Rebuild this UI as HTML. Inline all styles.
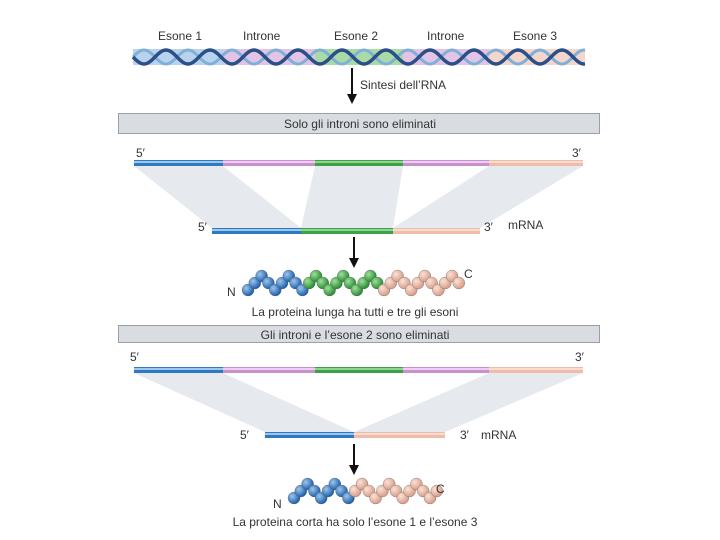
<!DOCTYPE html>
<html><head><meta charset="utf-8"><style>
body{margin:0;background:#fff;width:720px;height:540px;overflow:hidden}
svg{display:block}
text{font-family:"Liberation Sans",sans-serif;fill:#333}
</style></head><body>
<svg id="s" width="720" height="540" viewBox="0 0 720 540">
<defs>
<radialGradient id="gb" cx="35%" cy="35%" r="65%"><stop offset="0" stop-color="#9cc6ee"/><stop offset="1" stop-color="#1f5fa8"/></radialGradient>
<radialGradient id="gg" cx="35%" cy="35%" r="65%"><stop offset="0" stop-color="#9fe09a"/><stop offset="1" stop-color="#2a8a36"/></radialGradient>
<radialGradient id="gp" cx="35%" cy="35%" r="65%"><stop offset="0" stop-color="#fbe2d6"/><stop offset="1" stop-color="#d79c88"/></radialGradient>
</defs>
<g font-size="12">
<text x="158" y="40">Esone 1</text><text x="243" y="40">Introne</text><text x="334" y="40">Esone 2</text><text x="427" y="40">Introne</text><text x="513" y="40">Esone 3</text>
</g>
<rect x="133" y="49" width="90" height="16" fill="#b9d3ee"/>
<rect x="223" y="49" width="92" height="16" fill="#e3c3e6"/>
<rect x="315" y="49" width="88" height="16" fill="#a9dba6"/>
<rect x="403" y="49" width="86" height="16" fill="#e3c3e6"/>
<rect x="489" y="49" width="96" height="16" fill="#f5d6cc"/>
<g id="helix"></g>
<line x1="352" y1="68" x2="352" y2="96" stroke="#111" stroke-width="2"/><polygon points="347,94 357,94 352,104" fill="#111"/>
<text x="360" y="89" font-size="12">Sintesi dell’RNA</text>
<rect x="118.5" y="113.5" width="481" height="20" fill="#d9dde2" stroke="#9aa0a6"/>
<text x="360" y="128" font-size="12" text-anchor="middle">Solo gli introni sono eliminati</text>
<polygon points="134,166 223,166 301,228 212,228" fill="#e6eaee"/>
<polygon points="315,166 403,166 393,228 301,228" fill="#e6eaee"/>
<polygon points="489,166 583,166 480,228 393,228" fill="#e6eaee"/>
<g id="bar1"></g>
<text x="136" y="157" font-size="12">5′</text><text x="572" y="157" font-size="12">3′</text>
<text x="198" y="231" font-size="12">5′</text><text x="484" y="231" font-size="12">3′</text><text x="508" y="229" font-size="12">mRNA</text>
<line x1="354" y1="237" x2="354" y2="260" stroke="#111" stroke-width="2"/><polygon points="349,258 359,258 354,268" fill="#111"/>
<g id="prot1"></g>
<text x="227" y="296" font-size="12">N</text><text x="464" y="278" font-size="12">C</text>
<text x="355" y="316" font-size="12" text-anchor="middle">La proteina lunga ha tutti e tre gli esoni</text>
<rect x="118.5" y="325.5" width="481" height="17" fill="#d9dde2" stroke="#9aa0a6"/>
<text x="355" y="339" font-size="12" text-anchor="middle">Gli introni e l’esone 2 sono eliminati</text>
<polygon points="134,373 223,373 354,432 265,432" fill="#e6eaee"/>
<polygon points="489,373 583,373 445,432 354,432" fill="#e6eaee"/>
<g id="bar2"></g>
<text x="130" y="361" font-size="12">5′</text><text x="575" y="361" font-size="12">3′</text>
<text x="240" y="439" font-size="12">5′</text><text x="460" y="439" font-size="12">3′</text><text x="481" y="439" font-size="12">mRNA</text>
<line x1="354" y1="444" x2="354" y2="467" stroke="#111" stroke-width="2"/><polygon points="349,465 359,465 354,475" fill="#111"/>
<g id="prot2"></g>
<text x="273" y="508" font-size="12">N</text><text x="436" y="493" font-size="12">C</text>
<text x="355" y="526" font-size="12" text-anchor="middle">La proteina corta ha solo l’esone 1 e l’esone 3</text>
</svg>
<script>
var NS="http://www.w3.org/2000/svg";
function el(p,t,a){var e=document.createElementNS(NS,t);for(var k in a)e.setAttribute(k,a[k]);p.appendChild(e);return e;}
var h=document.getElementById("helix");
function wave(ph,col,w){var d="";for(var x=133;x<=585;x+=1){var y=57+7*Math.sin((x-133)/22*Math.PI+ph);d+=(x==133?"M":"L")+x+","+y.toFixed(1);}el(h,"path",{d:d,fill:"none",stroke:col,"stroke-width":w});}
wave(Math.PI,"#7fb0d8",3);wave(0,"#2b4f86",3.5);
var C={b:"#2f78c2",p:"#c98fcf",g:"#3ea048",o:"#efbcaa"};
var L={b:"#9cc8ee",p:"#ecd0ef",g:"#8fd48f",o:"#f8dcd2"};
function bar(id,y,segs){var g=document.getElementById(id);segs.forEach(function(s){el(g,"rect",{x:s[0],y:y,width:s[1]-s[0],height:6,fill:C[s[2]]});el(g,"rect",{x:s[0],y:y+1,width:s[1]-s[0],height:2,fill:L[s[2]]});});}
bar("bar1",160,[[134,223,"b"],[223,315,"p"],[315,403,"g"],[403,489,"p"],[489,583,"o"]]);
bar("bar1",228,[[212,301,"b"],[301,393,"g"],[393,480,"o"]]);
bar("bar2",367,[[134,223,"b"],[223,315,"p"],[315,403,"g"],[403,489,"p"],[489,583,"o"]]);
bar("bar2",432,[[265,354,"b"],[354,445,"o"]]);
function prot(id,x0,yb,groups){var g=document.getElementById(id);var pat=[0,-7,-14,-7];var i=0;groups.forEach(function(gr){for(var k=0;k<gr[1];k++){var x=x0+i*6.8;var y=yb+pat[i%4];el(g,"circle",{cx:x,cy:y,r:6,fill:"url(#"+gr[0]+")",stroke:"#555","stroke-width":0.3});i++;}});}
prot("prot1",248,290,[["gb",9],["gg",11],["gp",12]]);
prot("prot2",294,498,[["gb",9],["gp",13]]);
</script>
</body></html>
